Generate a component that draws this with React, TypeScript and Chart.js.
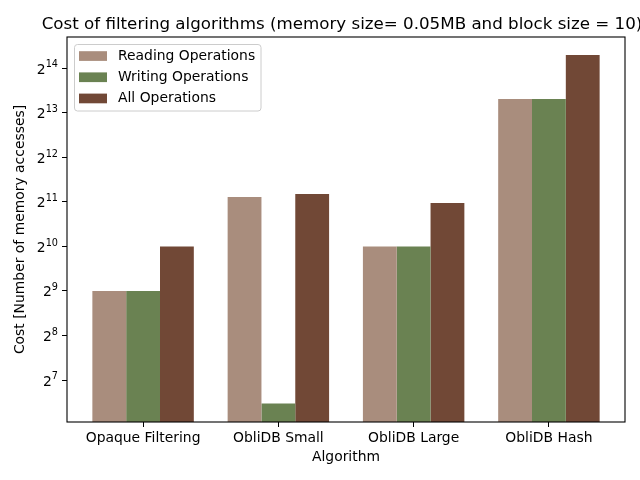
import React, { useEffect, useRef } from 'react';
import { Chart, registerables } from 'chart.js';

Chart.register(...registerables);

const categories = ['Opaque Filtering', 'ObliDB Small', 'ObliDB Large', 'ObliDB Hash'];
const readingOps = [512, 2210, 1024, 10140];
const writingOps = [512, 89, 1024, 10140];
const allOps = [1024, 2316, 2013, 20090];
const seriesNames = ['Reading Operations', 'Writing Operations', 'All Operations'];
const seriesColors = ['#a98d7d', '#6a8252', '#714836'];
const yTickExponents = [7, 8, 9, 10, 11, 12, 13, 14];
const titleText = 'Cost of filtering algorithms (memory size= 0.05MB and block size = 10)';
const xTitle = 'Algorithm';
const yTitle = 'Cost [Number of memory accesses]';

const FONT = "'DejaVu Sans', sans-serif";

const decorPlugin = {
  id: 'decor',
  afterDraw(chart: any) {
    const { ctx, chartArea } = chart;
    const { left, right, top, bottom } = chartArea;
    ctx.save();
    // y tick labels: base 2 with raised exponent
    const ys = chart.scales.y;
    ctx.fillStyle = '#000';
    ctx.textBaseline = 'alphabetic';
    ctx.textAlign = 'left';
    yTickExponents.forEach((e) => {
      const py = ys.getPixelForValue(Math.pow(2, e));
      const expStr = String(e);
      ctx.font = `9.7px ${FONT}`;
      const ew = ctx.measureText(expStr).width;
      ctx.font = `13.9px ${FONT}`;
      const bw = ctx.measureText('2').width;
      const xr = left - 9;
      const baseY = py + 5.5;
      ctx.fillText('2', xr - ew - bw, baseY);
      ctx.font = `9.7px ${FONT}`;
      ctx.fillText(expStr, xr - ew, baseY - 6.2);
    });
    // frame
    ctx.strokeStyle = '#000';
    ctx.lineWidth = 1.1;
    ctx.strokeRect(left, top, right - left, bottom - top);
    // title
    ctx.fillStyle = '#000';
    ctx.font = `16.7px ${FONT}`;
    ctx.textAlign = 'center';
    ctx.textBaseline = 'alphabetic';
    ctx.fillText(titleText, 342, 28.5);
    // legend
    const lx = 74.5, ly = 44.5, lw = 186.5, lh = 66.5, r = 3;
    ctx.beginPath();
    ctx.moveTo(lx + r, ly);
    ctx.lineTo(lx + lw - r, ly);
    ctx.quadraticCurveTo(lx + lw, ly, lx + lw, ly + r);
    ctx.lineTo(lx + lw, ly + lh - r);
    ctx.quadraticCurveTo(lx + lw, ly + lh, lx + lw - r, ly + lh);
    ctx.lineTo(lx + r, ly + lh);
    ctx.quadraticCurveTo(lx, ly + lh, lx, ly + lh - r);
    ctx.lineTo(lx, ly + r);
    ctx.quadraticCurveTo(lx, ly, lx + r, ly);
    ctx.closePath();
    ctx.fillStyle = 'rgba(255,255,255,0.8)';
    ctx.fill();
    ctx.strokeStyle = '#cccccc';
    ctx.lineWidth = 1;
    ctx.stroke();
    ctx.font = `13.9px ${FONT}`;
    ctx.textAlign = 'left';
    ctx.textBaseline = 'middle';
    chart.data.datasets.forEach((ds: any, i: number) => {
      const cy = 56 + i * 21.2;
      ctx.fillStyle = ds.backgroundColor;
      ctx.fillRect(79, cy - 4.8, 28, 9.7);
      ctx.fillStyle = '#000';
      ctx.fillText(ds.label, 118, cy);
    });
    ctx.restore();
  },
};

export default function App() {
  const ref = useRef<HTMLCanvasElement>(null);
  useEffect(() => {
    if (!ref.current) return;
    const series = [readingOps, writingOps, allOps];
    const chart = new Chart(ref.current, {
      type: 'bar',
      data: {
        datasets: series.map((vals, s) => ({
          label: seriesNames[s],
          data: categories.map((_, i) => ({ x: i, y: vals[i] })),
          backgroundColor: seriesColors[s],
          borderWidth: 0,
          categoryPercentage: 0.75,
          barPercentage: 1.0,
        })),
      },
      options: {
        responsive: false,
        animation: false,
        devicePixelRatio: 1,
        layout: { padding: { top: 37, right: 15, left: 0, bottom: 0 } },
        plugins: { legend: { display: false }, tooltip: { enabled: false }, title: { display: false } },
        scales: {
          x: {
            type: 'linear',
            offset: false,
            min: -0.5625,
            max: 3.5625,
            afterBuildTicks: (s: any) => {
              s.ticks = categories.map((_, i) => ({ value: i }));
            },
            afterFit: (s: any) => {
              s.height = 58;
            },
            ticks: {
              autoSkip: false,
              maxRotation: 0,
              padding: 3,
              color: '#000',
              font: { family: FONT, size: 13.9 },
              callback: (v: any) => categories[v] ?? '',
            },
            grid: { display: true, offset: false, drawOnChartArea: false, drawTicks: true, tickLength: 5, color: '#000', lineWidth: 1 },
            border: { display: false },
            title: { display: true, text: xTitle, color: '#000', font: { family: FONT, size: 13.9 }, padding: { top: 0, bottom: 14 } },
          },
          y: {
            type: 'logarithmic',
            min: Math.pow(2, 6.058),
            max: Math.pow(2, 14.7),
            afterBuildTicks: (s: any) => {
              s.ticks = yTickExponents.map((e) => ({ value: Math.pow(2, e) }));
            },
            afterFit: (s: any) => {
              s.width = 67;
            },
            ticks: {
              display: false,
              autoSkip: false,
            },
            grid: { display: true, drawOnChartArea: false, drawTicks: true, tickLength: 5, color: '#000', lineWidth: 1 },
            border: { display: false },
            title: { display: true, text: yTitle, color: '#000', font: { family: FONT, size: 13.9 }, padding: { top: 12, bottom: 0 } },
          },
        },
      },
      plugins: [decorPlugin],
    } as any);
    return () => chart.destroy();
  }, []);
  return (
    <div style={{ position: 'fixed', left: 0, top: 0, width: 640, height: 480, background: '#fff' }}>
      <canvas ref={ref} width={640} height={480} style={{ display: 'block' }} />
    </div>
  );
}
